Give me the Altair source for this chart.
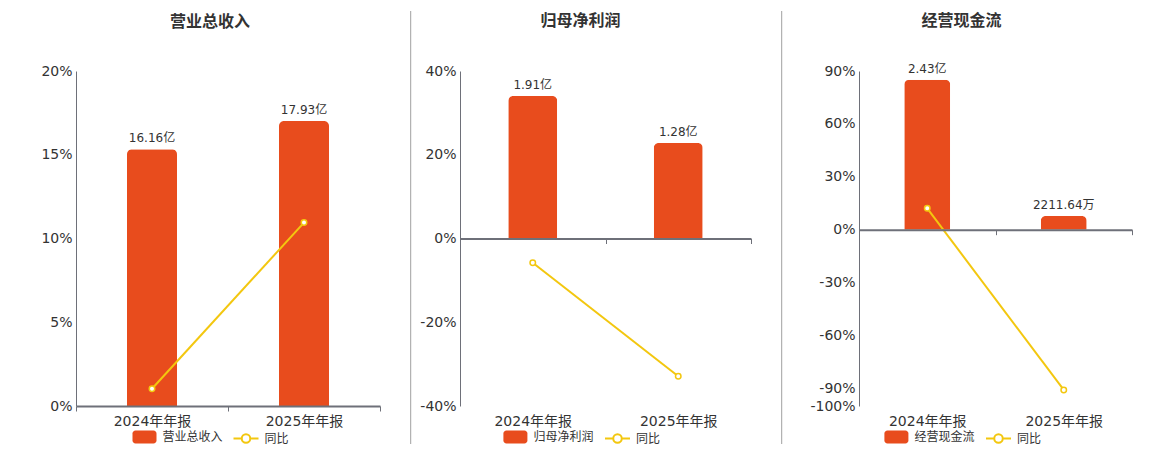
import altair as alt
import pandas as pd

# ---------------- data ----------------
periods = ["2024年年报", "2025年年报"]
yoy_name = "同比"

titles = ["营业总收入", "归母净利润", "经营现金流"]

revenue = [16.16, 17.93]                 # 亿
revenue_labels = ["16.16亿", "17.93亿"]
revenue_yoy = [1.03, 10.95]              # %

profit = [1.91, 1.28]                    # 亿
profit_labels = ["1.91亿", "1.28亿"]
profit_yoy = [-5.8, -32.9]               # %

cash = [2.43, 0.221164]                  # 亿
cash_labels = ["2.43亿", "2211.64万"]
cash_yoy = [12.1, -90.9]                 # %

# ---------------- style ----------------
FONT = "DejaVu Sans, Noto Sans CJK SC, sans-serif"
ORANGE = "#E84C1D"
YELLOW = "#F3C70F"
TEXT = "#333333"
AXIS = "#6E7079"
GRID = "#E0E6F1"
H = 335

RECT_PATH = ("M-0.75,-0.54H0.75A0.25,0.25,0,0,1,1,-0.29V0.29A0.25,0.25,0,0,1,0.75,0.54"
             "H-0.75A0.25,0.25,0,0,1,-1,0.29V-0.29A0.25,0.25,0,0,1,-0.75,-0.54Z")
LINE_PATH = ("M-1,0H-0.34M0.34,0H1M-0.34,0A0.34,0.34,0,1,0,0.34,0"
             "A0.34,0.34,0,1,0,-0.34,0Z")


def panel(name, vals, labels, yoy, bar_dom, pct_dom, pct_ticks, width, bar_w,
          title_dx, rule_x, rule_op, leg_bar_x, leg_line_x):
    df = pd.DataFrame({
        "period": periods,
        "value": vals,
        "label": labels,
        "yoy": yoy,
        "series": [name] * len(periods),
        "series2": [yoy_name] * len(periods),
    })
    zero_px = H * pct_dom[1] / (pct_dom[1] - pct_dom[0])
    off = -(H - zero_px)
    x = alt.X("period:N", sort=periods, scale=alt.Scale(paddingInner=0, paddingOuter=0),
              axis=alt.Axis(title=None, labelAngle=0, labelFont=FONT, labelFontSize=14,
                            labelColor=TEXT, domainColor=AXIS, domainWidth=2,
                            tickColor=AXIS, tickSize=5, tickWidth=1, tickBand="extent",
                            labelPadding=3 - off, offset=off, zindex=1))
    base = alt.Chart(df)
    ybar = alt.Y("value:Q", scale=alt.Scale(domain=bar_dom, nice=False, zero=True), axis=None)
    bars = base.mark_bar(width=bar_w, cornerRadiusTopLeft=5, cornerRadiusTopRight=5).encode(
        x=x, y=ybar,
        color=alt.Color("series:N", scale=alt.Scale(domain=[name], range=[ORANGE]),
                        legend=alt.Legend(orient="none", legendX=leg_bar_x, legendY=354,
                                          title=None, padding=0, symbolType=RECT_PATH,
                                          symbolSize=576, symbolStrokeWidth=0,
                                          labelFont=FONT, labelFontSize=12,
                                          labelColor=TEXT, labelOffset=6)),
    )
    text = base.mark_text(dy=-7, baseline="alphabetic", fontSize=12, font=FONT,
                          color=TEXT).encode(
        x=alt.X("period:N", sort=periods), y=ybar, text="label:N")
    yline = alt.Y("yoy:Q", scale=alt.Scale(domain=pct_dom, nice=False, zero=False),
                  axis=alt.Axis(orient="left", title=None, values=pct_ticks,
                                labelExpr="datum.value + '%'", ticks=False,
                                labelPadding=4, labelFont=FONT, labelFontSize=14,
                                labelColor=TEXT, domainColor=AXIS, domainWidth=1,
                                gridColor=GRID, gridWidth=1))
    line = base.mark_line(strokeWidth=2).encode(
        x=alt.X("period:N", sort=periods), y=yline,
        stroke=alt.Stroke("series2:N", scale=alt.Scale(domain=[yoy_name], range=[YELLOW]),
                          legend=alt.Legend(orient="none", legendX=leg_line_x, legendY=354,
                                            title=None, padding=0, symbolType=LINE_PATH,
                                            symbolSize=625, symbolStrokeWidth=2,
                                            symbolFillColor="white",
                                            labelFont=FONT, labelFontSize=12,
                                            labelColor=TEXT, labelOffset=5)),
    )
    pts = base.mark_point(filled=False, fill="white", stroke=YELLOW, strokeWidth=1.5,
                          size=30, opacity=1).encode(
        x=alt.X("period:N", sort=periods),
        y=alt.Y("yoy:Q", scale=alt.Scale(domain=pct_dom, nice=False, zero=False), axis=None))
    rule = alt.Chart(alt.Data(values=[{}])).mark_rule(
        color="#A0A0A0", strokeWidth=1, strokeOpacity=rule_op).encode(
        x=alt.value(rule_x), y=alt.value(-60), y2=alt.value(373))
    return alt.layer(bars, text, line, pts, rule).resolve_scale(y="independent").properties(
        width=width, height=H,
        title=alt.Title(text=name, fontSize=16, fontWeight="bold", color=TEXT, font=FONT,
                        anchor="middle", frame="group", dx=title_dx, offset=-18.5),
    )


p1 = panel(titles[0], revenue, revenue_labels, revenue_yoy, [0, 21.08], [0, 20],
           [0, 5, 10, 15, 20], 304, 50, -18, 0, 0, 56.5, 156.5)
p2 = panel(titles[1], profit, profit_labels, profit_yoy, [-2.246, 2.246], [-40, 40],
           [-40, -20, 0, 20, 40], 291, 49, -25, -49.3, 1, 43.4, 144)
p3 = panel(titles[2], cash, cash_labels, cash_yoy, [-2.856, 2.57], [-100, 90],
           [-100, -90, -60, -30, 0, 30, 60, 90], 273, 46, -34, -77.3, 1, 25.4, 126)

chart = alt.hconcat(p1, p2, p3, spacing=29).resolve_scale(
    color="independent", stroke="independent"
).resolve_legend(
    color="independent", stroke="independent"
).properties(
    padding={"left": 32, "top": 2, "right": 0, "bottom": 0},
    background="white",
).configure_view(stroke=None)

chart.save("out.html", embed_options={"renderer": "svg", "actions": False})
